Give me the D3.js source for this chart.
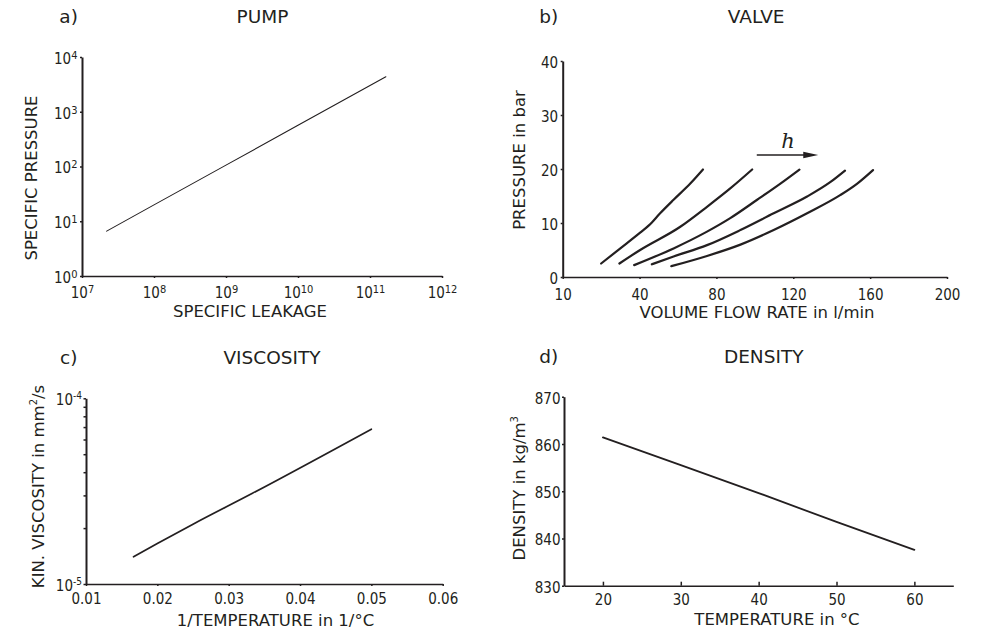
<!DOCTYPE html>
<html>
<head>
<meta charset="utf-8">
<script src="https://cdn.jsdelivr.net/npm/d3@7"></script>
<style>
body { margin: 0; background: #fff; }
text { fill: #231f20; font-family: "DejaVu Sans", Verdana, sans-serif; }
.tick text { font-family: "DejaVu Sans Condensed", "DejaVu Sans", sans-serif; font-size: 15px; }
.domain, .tick line { stroke: #231f20; }
.curve { fill: none; stroke: #231f20; stroke-linejoin: round; stroke-linecap: round; }
</style>
</head>
<body>
<svg width="982" height="631"></svg>
<script>
// a) pump
var pumpLeakage = [2.2e7, 1e8, 1e9, 1e10, 1e11, 1.66e11];
var pumpPressure = [6.6, 19.9, 106, 565, 3010, 4350];
var pumpXExp = [7, 8, 9, 10, 11, 12];
var pumpYExp = [0, 1, 2, 3, 4];

// b) valve, one curve per stroke h
var valveFlow = [
  [20, 30, 40.3, 45, 50.7, 57.7, 66.4, 73],
  [29.5, 40.3, 61.2, 75.1, 87.2, 98.6],
  [37.2, 57.7, 75.1, 87.2, 101.2, 113.3, 123.2],
  [46.4, 57.7, 75.1, 92.5, 109.8, 127.2, 139.4, 146.9],
  [56.5, 75.1, 92.5, 109.8, 127.2, 144.6, 153.3, 161.5]
];
var valvePressure = [
  [2.5, 5.3, 8.2, 9.6, 11.8, 14.3, 17.3, 19.9],
  [2.5, 5, 9.3, 13, 16.4, 19.9],
  [2.2, 5.3, 8.4, 10.9, 14.3, 17.3, 19.9],
  [2.35, 3.8, 5.9, 8.7, 11.8, 14.9, 17.6, 19.7],
  [2.0, 3.9, 6.0, 8.7, 11.8, 15.2, 17.3, 19.8]
];
var valveXTicks = [0, 40, 80, 120, 160, 200];
var valveXLabels = ["10", "40", "80", "120", "160", "200"];
var valveYTicks = [0, 10, 20, 30, 40];
var arrowFlow = [101, 133], arrowPressure = 22.6;

// c) viscosity
var invTemp = [1 / 60, 1 / 50, 1 / 40, 1 / 30, 1 / 20];
var viscosity = [1.40e-5, 1.65e-5, 2.10e-5, 3.08e-5, 6.82e-5];
var viscXTicks = [0.01, 0.02, 0.03, 0.04, 0.05, 0.06];
var viscYTicks = [1e-5, 2e-5, 3e-5, 4e-5, 5e-5, 6e-5, 7e-5, 8e-5, 9e-5, 1e-4];

// d) density
var temperature = [20, 30, 40, 50, 60];
var density = [861.4, 855.5, 849.6, 843.5, 837.6];
var densXTicks = [20, 30, 40, 50, 60];
var densYTicks = [830, 840, 850, 860, 870];

var svg = d3.select("svg");

function sup(text, base, exp, size, rise) {
  text.text(null);
  text.append("tspan").text(base);
  text.append("tspan").attr("dy", -rise).attr("font-size", size).text(exp);
}

function title(x1, x2, y, letter, name) {
  svg.append("text").attr("x", x1).attr("y", y).style("font-size", "18.5px").text(letter);
  svg.append("text").attr("x", x2).attr("y", y).attr("text-anchor", "middle").style("font-size", "18.5px").text(name);
}

function xTitle(x, y, s) {
  return svg.append("text").attr("x", x).attr("y", y).attr("text-anchor", "middle").style("font-size", "16.5px").text(s);
}
function yTitle(x, y, s) {
  return svg.append("text").attr("transform", "translate(" + x + "," + y + ") rotate(-90)")
    .attr("text-anchor", "middle").style("font-size", "16.5px").text(s);
}

function drawAxes(x, y, xAxis, yAxis) {
  var gx = svg.append("g").attr("transform", "translate(0," + y.range()[0] + ")").call(xAxis);
  var gy = svg.append("g").attr("transform", "translate(" + x.range()[0] + ",0)").call(yAxis);
  gx.select(".domain").attr("stroke-width", 1.6);
  gy.select(".domain").attr("stroke-width", 2);
  gx.selectAll(".tick line").attr("stroke-width", 1.5);
  gy.selectAll(".tick line").attr("stroke-width", 1.5);
  gy.selectAll(".tick text").attr("dy", "0.42em");
  return [gx, gy];
}

// ---------- a) PUMP
(function () {
  var x = d3.scaleLog().domain([1e7, 1e12]).range([82, 442]);
  var y = d3.scaleLog().domain([1, 1e4]).range([276, 57]);
  var ax = drawAxes(x, y,
    d3.axisBottom(x).tickValues(pumpXExp.map(function (e) { return Math.pow(10, e); })).tickSize(2).tickSizeOuter(0).tickPadding(9.5),
    d3.axisLeft(y).tickValues(pumpYExp.map(function (e) { return Math.pow(10, e); })).tickSize(2).tickSizeOuter(0).tickPadding(2.5));
  ax[0].selectAll(".tick text").each(function (d, i) { sup(d3.select(this), "10", pumpXExp[i], 11, 5); });
  ax[1].selectAll(".tick text").each(function (d, i) { sup(d3.select(this), "10", pumpYExp[i], 11, 5); });
  var line = d3.line().x(function (d) { return x(d[0]); }).y(function (d) { return y(d[1]); });
  svg.append("path").attr("class", "curve").attr("stroke-width", 1.1)
    .attr("d", line(d3.zip(pumpLeakage, pumpPressure)));
  title(59.3, 262.5, 23, "a)", "PUMP");
  xTitle(250, 317, "SPECIFIC LEAKAGE");
  yTitle(37, 178, "SPECIFIC PRESSURE");
})();

// ---------- b) VALVE
(function () {
  var x = d3.scaleLinear().domain([0, 200]).range([562.7, 947]);
  var y = d3.scaleLinear().domain([0, 40]).range([277, 61]);
  drawAxes(x, y,
    d3.axisBottom(x).tickValues(valveXTicks).tickFormat(function (d, i) { return valveXLabels[i]; }).tickSize(2).tickSizeOuter(0).tickPadding(10.5),
    d3.axisLeft(y).tickValues(valveYTicks).tickSize(2).tickSizeOuter(0).tickPadding(2.5));
  var line = d3.line().curve(d3.curveMonotoneX).x(function (d) { return x(d[0]); }).y(function (d) { return y(d[1]); });
  valveFlow.forEach(function (f, i) {
    svg.append("path").attr("class", "curve").attr("stroke-width", 2.2)
      .attr("d", line(d3.zip(f, valvePressure[i])));
  });
  // stroke arrow
  var x0 = x(arrowFlow[0]), x1 = x(arrowFlow[1]), ay = y(arrowPressure);
  svg.append("line").attr("x1", x0).attr("x2", x1 - 12).attr("y1", ay).attr("y2", ay)
    .attr("stroke", "#231f20").attr("stroke-width", 1.6);
  svg.append("path").attr("fill", "#231f20")
    .attr("d", "M" + x1 + "," + ay + "L" + (x1 - 15) + "," + (ay - 3.2) + "L" + (x1 - 15) + "," + (ay + 3.2) + "Z");
  svg.append("text").attr("x", (x0 + x1) / 2 + 0.5).attr("y", ay - 7).attr("text-anchor", "middle")
    .style("font-family", "'DejaVu Serif', 'Liberation Serif', serif").style("font-style", "italic").style("font-size", "21px").text("h");
  title(539.3, 756.2, 23, "b)", "VALVE");
  xTitle(757, 318, "VOLUME FLOW RATE in l/min");
  yTitle(525, 160, "PRESSURE in bar");
})();

// ---------- c) VISCOSITY
(function () {
  var x = d3.scaleLinear().domain([0.01, 0.06]).range([86, 442.7]);
  var y = d3.scaleLog().domain([1e-5, 1e-4]).range([584, 398.3]);
  var ax = drawAxes(x, y,
    d3.axisBottom(x).tickValues(viscXTicks).tickFormat(d3.format(".2f")).tickSize(2).tickSizeOuter(0).tickPadding(7.5),
    d3.axisLeft(y).tickValues(viscYTicks).tickSize(2.5).tickSizeOuter(0).tickPadding(1.5));
  ax[1].selectAll(".tick text").each(function (d) {
    var e = Math.round(Math.log10(d));
    if (Math.abs(Math.log10(d) - e) > 1e-6) { d3.select(this).remove(); return; }
    sup(d3.select(this), "10", String(e), 10, 6);
  });
  var line = d3.line().curve(d3.curveMonotoneX).x(function (d) { return x(d[0]); }).y(function (d) { return y(d[1]); });
  svg.append("path").attr("class", "curve").attr("stroke-width", 1.7)
    .attr("d", line(d3.zip(invTemp, viscosity)));
  title(60, 272, 363.5, "c)", "VISCOSITY");
  xTitle(275.5, 626, "1/TEMPERATURE in 1/°C");
  var t = yTitle(44, 486.5, "");
  t.append("tspan").text("KIN. VISCOSITY in mm");
  t.append("tspan").attr("dy", -7).style("font-size", "10px").text("2");
  t.append("tspan").attr("dy", 7).text("/s");
})();

// ---------- d) DENSITY
(function () {
  var x = d3.scaleLinear().domain([15, 65]).range([564, 953.3]);
  var y = d3.scaleLinear().domain([830, 870]).range([585.7, 396.7]);
  drawAxes(x, y,
    d3.axisBottom(x).tickValues(densXTicks).tickSize(-4).tickSizeOuter(0).tickPadding(8.5),
    d3.axisLeft(y).tickValues(densYTicks).tickSize(2).tickSizeOuter(0).tickPadding(1.5));
  var line = d3.line().x(function (d) { return x(d[0]); }).y(function (d) { return y(d[1]); });
  svg.append("path").attr("class", "curve").attr("stroke-width", 1.8)
    .attr("d", line(d3.zip(temperature, density)));
  title(539.3, 763.7, 362.5, "d)", "DENSITY");
  xTitle(777, 625, "TEMPERATURE in °C");
  var t = yTitle(525, 488.3, "");
  t.append("tspan").text("DENSITY in kg/m");
  t.append("tspan").attr("dy", -7).style("font-size", "10px").text("3");
})();
</script>
</body>
</html>
